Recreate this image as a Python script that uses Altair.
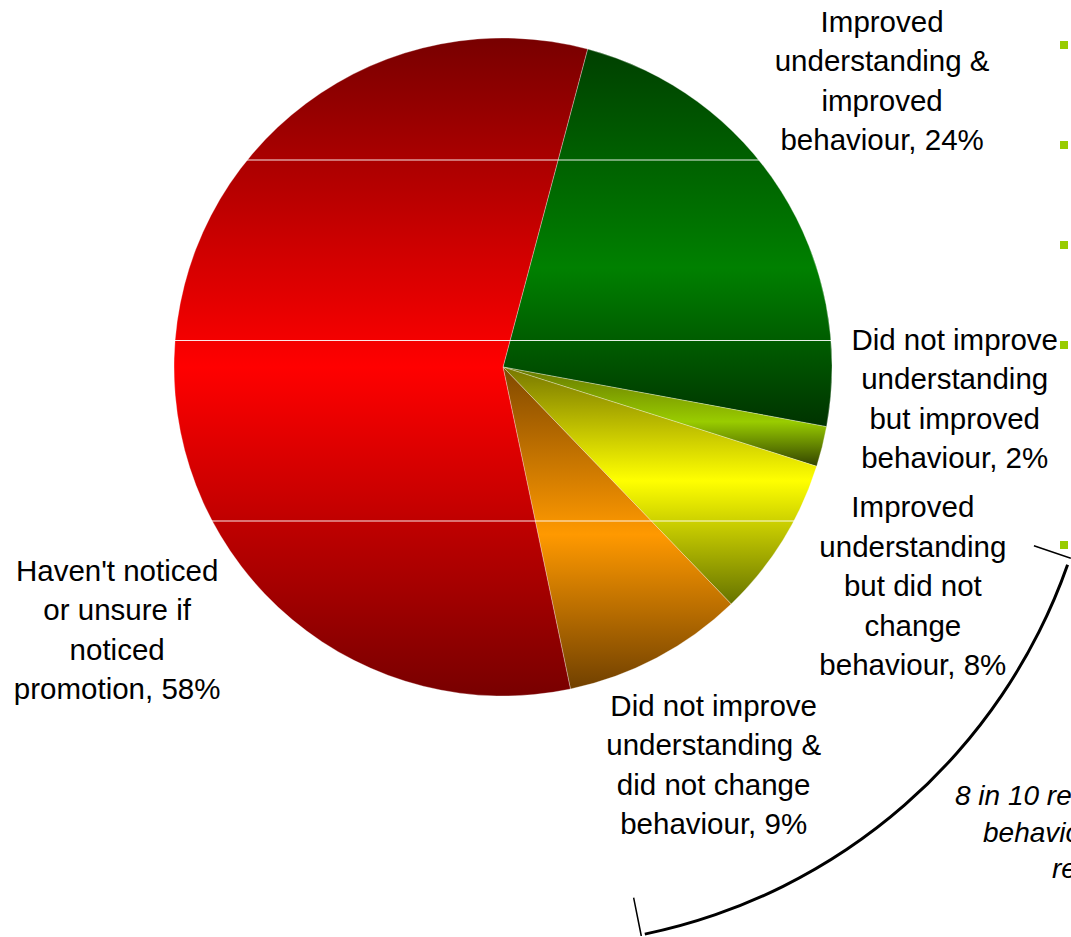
import math
import altair as alt
import pandas as pd

# ---------------- data ----------------
categories = [
    "Improved understanding & improved behaviour",
    "Did not improve understanding but improved behaviour",
    "Improved understanding but did not change behaviour",
    "Did not improve understanding & did not change behaviour",
    "Haven't noticed or unsure if noticed promotion",
]
values = [24, 2, 8, 9, 58]
labels = [
    "Improved\nunderstanding &\nimproved\nbehaviour, 24%",
    "Did not improve\nunderstanding\nbut improved\nbehaviour, 2%",
    "Improved\nunderstanding\nbut did not\nchange\nbehaviour, 8%",
    "Did not improve\nunderstanding &\ndid not change\nbehaviour, 9%",
    "Haven't noticed\nor unsure if\nnoticed\npromotion, 58%",
]
note_lines = ["8 in 10 respondents who noticed", "behaviour improved as a", "result"]
bullet_rows = [0, 1, 2, 3, 5]

# ---------------- styles ----------------
gradients = [
    [("#004000", 0.0), ("#008000", 0.58), ("#003300", 1.0)],
    [("#667700", 0.0), ("#99cc00", 0.55), ("#334400", 1.0)],
    [("#777700", 0.0), ("#ffff00", 0.48), ("#667300", 1.0)],
    [("#804800", 0.0), ("#ff9900", 0.52), ("#704000", 1.0)],
    [("#780000", 0.0), ("#ff0000", 0.5), ("#780000", 1.0)],
]
label_offsets = [(58, -141), (83, -118), (87, -59), (33, 4), (-6, 215)]
FONT = "Liberation Sans"

df = pd.DataFrame({
    "order": list(range(len(categories))),
    "category": categories,
    "value": values,
    "label": labels,
})

START = math.radians(14.9)
theta_scale = alt.Scale(domain=[0, 1], range=[START, START + 2 * math.pi])

base = (
    alt.Chart(df)
    .transform_joinaggregate(total="sum(value)")
    .transform_window(cum="sum(value)", sort=[alt.SortField("order")], frame=[None, 0])
    .transform_calculate(
        f0="(datum.cum - datum.value) / datum.total",
        f1="datum.cum / datum.total",
        fm="(datum.cum - datum.value / 2) / datum.total",
    )
)

layers = []
for i, stops in enumerate(gradients):
    grad = alt.Gradient(
        gradient="linear",
        stops=[alt.GradientStop(color=c, offset=o) for c, o in stops],
        x1=0, x2=0, y1=0, y2=1,
    )
    layers.append(
        base.transform_filter(alt.datum.order == i)
        .mark_arc(outerRadius=329, fill=grad, stroke="#ffffff", strokeWidth=0.6, strokeOpacity=0.5)
        .encode(
            theta=alt.Theta("f0:Q", scale=theta_scale, stack=None),
            theta2="f1:Q",
            tooltip=["category:N", "value:Q"],
        )
    )

# faint white horizontal lines across the pie
dummy = alt.Chart(pd.DataFrame({"k": [0]}))
for yy in [160, 340.5, 521]:
    layers.append(
        dummy.mark_rule(color="white", strokeWidth=1, opacity=0.9).encode(
            x=alt.value(174), x2=alt.value(833), y=alt.value(yy)
        )
    )

# slice labels
for i, (dx, dy) in enumerate(label_offsets):
    layers.append(
        base.transform_filter(alt.datum.order == i)
        .mark_text(
            radius=380, dx=dx, dy=dy, font=FONT, fontSize=29.5, lineHeight=39.5,
            lineBreak="\n", align="center", baseline="middle", color="black",
        )
        .encode(theta=alt.Theta("fm:Q", scale=theta_scale, stack=None), text="label:N")
    )

# curved bracket
layers.append(
    dummy.mark_arc(
        innerRadius=569.5, outerRadius=572.5, fill="black",
        theta=math.radians(109.4), theta2=math.radians(168.3),
    ).encode(x=alt.value(529), y=alt.value(375))
)
for ang in [108.6, 168.6]:
    layers.append(
        dummy.mark_arc(
            innerRadius=533, outerRadius=572, fill="black",
            theta=math.radians(ang), theta2=math.radians(ang) + 0.0028,
        ).encode(x=alt.value(529), y=alt.value(375))
    )

# italic note (cut off at the right edge, as in the original slide)
for txt, xx, yy in zip(note_lines, [955, 983, 1052], [797, 834, 870]):
    layers.append(
        dummy.mark_text(
            text=txt, font=FONT, fontSize=28, fontStyle="italic",
            align="left", baseline="middle", color="black",
        ).encode(x=alt.value(xx), y=alt.value(yy))
    )

# bullets of a cut-off list
bullets = alt.Chart(pd.DataFrame({"row": bullet_rows})).mark_square(
    size=64, color="#99cc00", opacity=1
).encode(
    x=alt.value(1064),
    y=alt.Y("row:Q", scale=alt.Scale(domain=[-0.45, 6.89], range=[0, 734]), axis=None),
)
layers.append(bullets)

chart = (
    alt.layer(*layers)
    .properties(
        width=1006,
        height=734,
        padding={"left": 0, "top": 0, "right": 65, "bottom": 203},
        autosize=alt.AutoSizeParams(type="none"),
        background="white",
    )
    .configure_view(stroke=None)
)

chart.save("out.html", embed_options={"renderer": "svg", "actions": False})
